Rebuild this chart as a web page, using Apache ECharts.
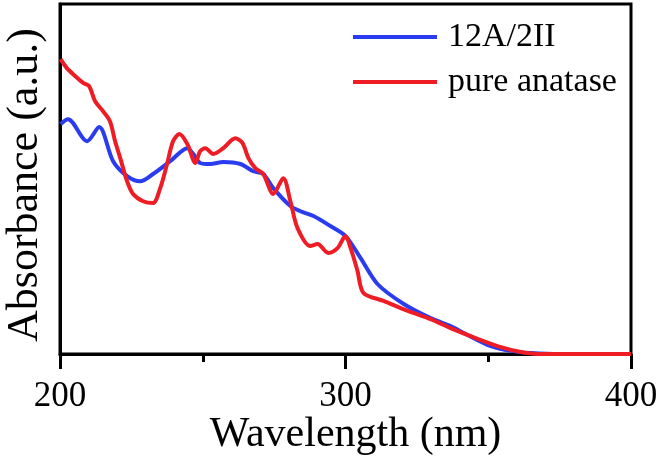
<!DOCTYPE html>
<html><head><meta charset="utf-8">
<script src="https://cdn.jsdelivr.net/npm/echarts@6/dist/echarts.min.js"></script>
<style>html,body{margin:0;padding:0;background:#fff}#c{width:660px;height:459px}</style>
</head><body><div id="c"></div>
<script>
const xTicks = [200, 300, 400];
const blueName = '12A/2II';
const redName = 'pure anatase';
const blueX = [200.2,202.8,209.5,213.7,218.6,223.5,228.1,232.6,238.6,244.6,246.7,249.1,252.6,257.2,263.2,267.7,271.2,274.7,280.7,284.2,288.8,294.7,300,305.3,311.2,320.4,329.8,336.8,342.1,350.9,357.9,364.9,375.4,400];
const blueY = [66.7,68.1,61.7,65.8,55.9,51.6,50.1,52.2,55.9,59.7,58.0,55.4,55.1,55.7,55.1,53.0,52.2,48.1,42.9,41.4,40.0,37.1,34.2,27.8,20.3,14.5,10.4,8.1,5.8,2.3,0.9,0.3,0,0];
const redX = [200.2,202.4,205.3,208.1,210.2,212.3,215.1,217.5,219.3,221.1,223.5,225.6,229.1,232.6,235.1,237.5,239.6,241.8,244.6,247.4,249.1,250.9,253.7,257.2,261.4,263.9,266.0,268.4,271.2,274.7,278.2,280.7,283.2,287.7,290.2,294.0,297.2,300.0,301.8,304.2,306.3,313.3,321.8,329.8,336.8,345.6,354.4,361.4,368.4,400];
const redY = [85.5,82.9,80.6,78.6,77.7,73.3,70.4,67.5,61.7,56.8,50.1,46.4,44.3,43.8,48.1,55.1,61.7,63.8,60.9,55.4,58.8,59.7,58.0,59.7,62.6,61.2,56.8,53.9,52.2,46.4,51.0,44.3,36.5,31.3,31.9,29.3,30.7,34.2,30.7,24.1,17.7,15.4,12.5,10.1,7.5,4.6,2.0,0.6,0,0];

const pair = (xs, ys) => xs.map((x, i) => [x, ys[i]]);
const font = 'Liberation Serif';
const chart = echarts.init(document.getElementById('c'), null, {renderer: 'canvas'});
chart.setOption({
  animation: false,
  backgroundColor: '#fff',
  grid: {left: 60, right: 29, top: 4, bottom: 105, outerBoundsMode: 'none', containLabel: false,
         show: true, borderColor: '#000', borderWidth: 3, backgroundColor: 'transparent'},
  legend: {
    orient: 'vertical', left: 348, top: 15, itemWidth: 84, itemHeight: 4, itemGap: 11,
    icon: 'rect',
    textStyle: {fontFamily: font, fontSize: 34, color: '#000', padding: [0,0,0,6]},
    data: [{name: blueName}, {name: redName}]
  },
  xAxis: {
    type: 'value', min: xTicks[0], max: xTicks[xTicks.length-1], interval: 100,
    name: 'Wavelength (nm)', nameLocation: 'middle', nameGap: 60, nameMoveOverlap: false,
    nameTextStyle: {fontFamily: font, fontSize: 42, color: '#000', padding: [0,0,0,20]},
    axisLine: {show: true, lineStyle: {color: '#000', width: 3}},
    axisTick: {show: true, inside: false, length: 15, lineStyle: {color: '#000', width: 3}},
    minorTick: {show: true, splitNumber: 2, length: 8, lineStyle: {color: '#000', width: 3}},
    axisLabel: {fontFamily: font, fontSize: 35, color: '#000', margin: 25},
    splitLine: {show: false}
  },
  yAxis: {
    type: 'value', min: 0, max: 101.5,
    name: 'Absorbance (a.u.)', nameLocation: 'middle', nameGap: 13,
    nameTextStyle: {fontFamily: font, fontSize: 44, color: '#000', padding: [0,12,0,0]},
    axisLine: {show: true, lineStyle: {color: '#000', width: 3}},
    axisTick: {show: false}, axisLabel: {show: false}, splitLine: {show: false}
  },
  series: [
    {name: blueName, type: 'line', data: pair(blueX, blueY), showSymbol: false, symbol: 'none', smooth: 0.3,
     lineStyle: {color: '#2a3cf0', width: 4}, itemStyle: {color: '#2a3cf0'}},
    {name: redName, type: 'line', data: pair(redX, redY), showSymbol: false, symbol: 'none', smooth: 0.3,
     lineStyle: {color: '#ee1c24', width: 4}, itemStyle: {color: '#ee1c24'}, z: 3}
  ]
});
</script></body></html>
